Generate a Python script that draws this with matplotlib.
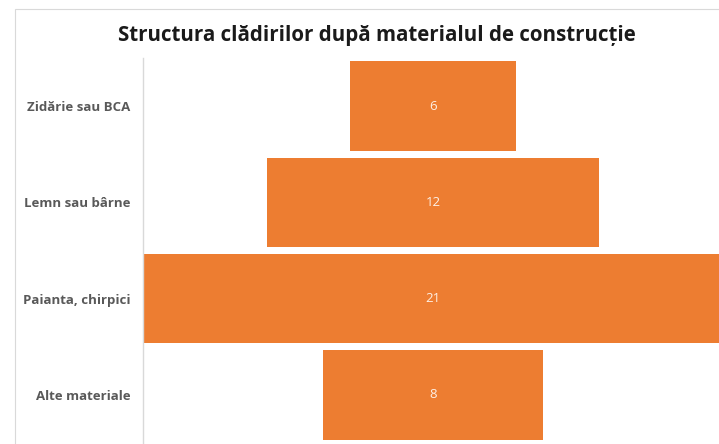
import matplotlib.pyplot as plt
from matplotlib.patches import Rectangle

categories = ['Zidărie sau BCA', 'Lemn sau bârne', 'Paianta, chirpici', 'Alte materiale']
values = [6, 12, 21, 8]

W, H = 719, 444
fig = plt.figure(figsize=(W / 100, H / 100), dpi=100)

# chart area border (only top and left visible in the crop)
fig.add_artist(Rectangle((15 / W, -0.1), 1.2, 1 - 9 / H + 0.1, transform=fig.transFigure,
                         fill=False, edgecolor='#d9d9d9', linewidth=0.8))

# axes extends slightly past the right edge, like the reference crop
ax = fig.add_axes([143 / W, 1 - 443 / H, 580 / W, 385 / H])

y = range(len(categories))
lefts = [-v / 2 for v in values]
ax.barh(y, values, left=lefts, height=0.93, color='#ED7D31')
for i, v in enumerate(values):
    ax.text(0, i, str(v), ha='center', va='center', color='#fdf0e6',
            fontsize=9.5, family='Open Sans')

ax.set_xlim(-10.5, 10.5)
ax.set_ylim(len(categories) - 0.5, -0.5)
ax.set_yticks(list(y))
ax.set_yticklabels(categories, fontsize=9.5, fontweight='bold', color='#595959', family='Open Sans')
ax.tick_params(axis='y', length=0, pad=9)
ax.set_xticks([])
for s in ['top', 'right', 'bottom']:
    ax.spines[s].set_visible(False)
ax.spines['left'].set_color('#d9d9d9')
ax.spines['left'].set_linewidth(1)

fig.text(377 / W, 1 - 35 / H, 'Structura clădirilor după materialul de construcție',
         ha='center', va='center', fontsize=14.8, fontweight='bold', color='#1a1a1a',
         family='Open Sans')

fig.savefig('out.png', dpi=100)
